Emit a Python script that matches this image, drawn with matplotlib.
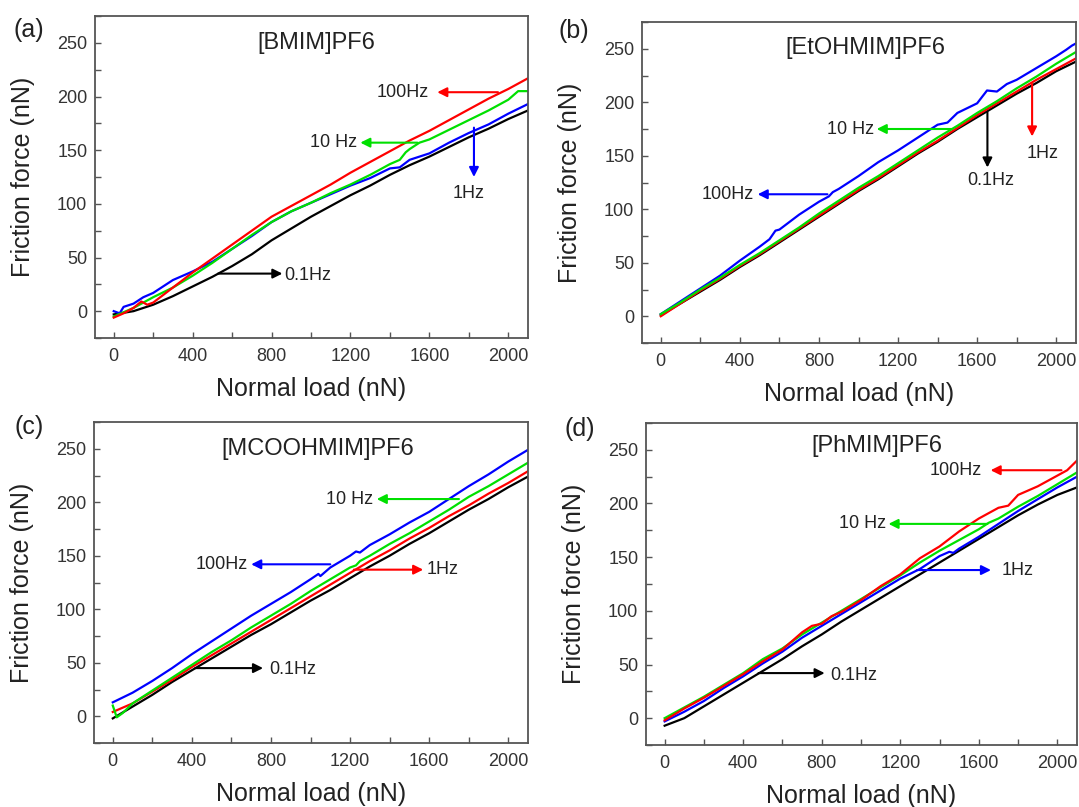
import numpy as np
import matplotlib
matplotlib.use("Agg")
import matplotlib.pyplot as plt
from matplotlib.ticker import MultipleLocator

plt.rcParams["font.family"] = ["Liberation Sans", "DejaVu Sans"]

# ---- (a) [BMIM]PF6 ----
a_black_x = [0, 100, 200, 300, 400, 500, 600, 700, 800, 900, 1000, 1100, 1200, 1300, 1400, 1500, 1600, 1700, 1800, 1900, 2000, 2100]
a_black_y = [-3, 0, 6, 14, 23, 32, 42, 53, 66, 77, 88, 98, 108, 117, 127, 136, 144, 153, 162, 170, 179, 187]
a_red_x = [0, 50, 100, 140, 170, 200, 250, 300, 400, 500, 600, 700, 800, 900, 1000, 1100, 1200, 1300, 1400, 1500, 1600, 1700, 1800, 1900, 2000, 2100]
a_red_y = [-6, -2, 3, 9, 6, 8, 15, 22, 36, 49, 62, 75, 88, 98, 108, 118, 129, 139, 149, 159, 168, 178, 188, 198, 207, 217]
a_green_x = [0, 100, 200, 300, 400, 500, 600, 700, 800, 900, 1000, 1100, 1200, 1300, 1400, 1450, 1480, 1500, 1550, 1600, 1700, 1800, 1900, 2000, 2050, 2100]
a_green_y = [-5, 3, 13, 22, 33, 45, 58, 71, 83, 93, 101, 110, 118, 127, 137, 141, 148, 151, 157, 160, 169, 178, 187, 197, 205, 205]
a_blue_x = [0, 30, 50, 100, 150, 200, 300, 350, 400, 500, 600, 700, 800, 900, 1000, 1100, 1200, 1300, 1400, 1450, 1500, 1600, 1700, 1800, 1850, 1900, 2000, 2100]
a_blue_y = [0, -2, 4, 7, 13, 17, 29, 33, 37, 46, 58, 70, 83, 93, 101, 109, 117, 124, 133, 134, 141, 147, 157, 166, 170, 174, 184, 193]

# ---- (b) [EtOHMIM]PF6 ----
b_black_x = [0, 100, 200, 300, 400, 500, 600, 700, 800, 900, 1000, 1100, 1200, 1300, 1400, 1500, 1600, 1700, 1800, 1900, 2000, 2100]
b_black_y = [1, 12, 23, 34, 46, 57, 69, 81, 93, 105, 117, 128, 140, 152, 163, 175, 186, 197, 208, 218, 229, 238]
b_red_x = [0, 100, 200, 300, 400, 500, 600, 700, 800, 900, 1000, 1100, 1200, 1300, 1400, 1500, 1600, 1700, 1800, 1900, 2000, 2100]
b_red_y = [0, 12, 24, 35, 47, 58, 70, 82, 94, 106, 118, 129, 141, 153, 164, 176, 188, 199, 210, 221, 231, 241]
b_green_x = [0, 100, 200, 300, 400, 500, 600, 700, 800, 900, 1000, 1100, 1200, 1300, 1400, 1500, 1600, 1700, 1800, 1900, 2000, 2100]
b_green_y = [2, 13, 25, 36, 48, 59, 71, 83, 96, 108, 120, 131, 143, 155, 167, 178, 190, 201, 213, 224, 236, 247]
b_blue_x = [0, 100, 200, 300, 400, 500, 550, 580, 600, 700, 800, 850, 870, 900, 1000, 1100, 1200, 1300, 1400, 1450, 1500, 1600, 1650, 1700, 1750, 1800, 1900, 2000, 2050, 2080, 2100]
b_blue_y = [2, 14, 26, 38, 52, 65, 72, 80, 81, 95, 107, 112, 116, 119, 131, 144, 155, 167, 179, 181, 190, 199, 211, 210, 217, 221, 232, 243, 249, 253, 255]

# ---- (c) [MCOOHMIM]PF6 ----
c_black_x = [0, 100, 200, 300, 400, 500, 600, 700, 800, 900, 1000, 1100, 1200, 1300, 1400, 1500, 1600, 1700, 1800, 1900, 2000, 2100]
c_black_y = [-2, 9, 20, 32, 43, 54, 65, 76, 86, 97, 108, 118, 129, 140, 150, 161, 171, 182, 193, 203, 214, 224]
c_red_x = [0, 100, 200, 300, 400, 500, 600, 700, 800, 900, 1000, 1100, 1200, 1300, 1400, 1500, 1600, 1700, 1800, 1900, 2000, 2100]
c_red_y = [4, 12, 23, 34, 46, 57, 68, 79, 90, 101, 112, 123, 134, 145, 155, 166, 176, 187, 197, 208, 218, 229]
c_green_x = [0, 20, 50, 100, 200, 300, 400, 500, 600, 700, 800, 900, 1000, 1100, 1200, 1230, 1250, 1300, 1400, 1500, 1600, 1700, 1800, 1900, 2000, 2100]
c_green_y = [10, -1, 3, 12, 24, 36, 48, 60, 71, 83, 94, 105, 117, 128, 139, 141, 145, 150, 161, 171, 182, 193, 205, 215, 226, 237]
c_blue_x = [0, 100, 200, 300, 400, 500, 600, 700, 800, 900, 1000, 1040, 1050, 1100, 1200, 1230, 1250, 1300, 1400, 1500, 1600, 1700, 1800, 1900, 2000, 2100]
c_blue_y = [13, 22, 33, 45, 58, 70, 82, 94, 105, 116, 128, 133, 131, 139, 150, 154, 153, 160, 170, 181, 191, 203, 215, 226, 238, 249]

# ---- (d) [PhMIM]PF6 ----
d_black_x = [0, 100, 200, 300, 400, 500, 600, 700, 800, 900, 1000, 1100, 1200, 1300, 1400, 1500, 1600, 1700, 1800, 1900, 2000, 2100]
d_black_y = [-7, 0, 11, 22, 33, 44, 55, 67, 78, 90, 101, 112, 123, 134, 145, 156, 167, 178, 189, 199, 208, 215]
d_blue_x = [0, 100, 200, 300, 400, 500, 600, 700, 800, 900, 1000, 1100, 1200, 1300, 1400, 1450, 1470, 1500, 1600, 1700, 1800, 1900, 2000, 2100]
d_blue_y = [-3, 6, 16, 28, 39, 51, 62, 75, 86, 97, 108, 119, 130, 139, 151, 155, 154, 158, 169, 181, 193, 204, 215, 225]
d_green_x = [0, 100, 200, 300, 400, 500, 600, 700, 800, 900, 1000, 1100, 1200, 1300, 1400, 1500, 1600, 1650, 1700, 1800, 1900, 2000, 2100]
d_green_y = [0, 10, 20, 31, 42, 55, 65, 78, 89, 100, 111, 122, 133, 145, 156, 166, 176, 182, 186, 197, 207, 218, 229]
d_red_x = [0, 100, 200, 300, 400, 500, 600, 700, 750, 800, 850, 900, 1000, 1100, 1200, 1300, 1400, 1500, 1600, 1700, 1750, 1800, 1900, 2000, 2050, 2100]
d_red_y = [-2, 9, 19, 30, 41, 53, 64, 80, 86, 88, 95, 99, 110, 123, 134, 149, 160, 174, 186, 196, 198, 208, 216, 226, 231, 240]

panels = [
    ("(a)", "[BMIM]PF6", (1025, 250),
     [(a_black_x, a_black_y, "k"), (a_blue_x, a_blue_y, "b"), (a_green_x, a_green_y, "g"), (a_red_x, a_red_y, "r")],
     # arrows: (start, end, colour, label, label pos, ha, va)
     [((1948, 204), (1640, 204), "r", "100Hz", (1600, 204), "right", "center"),
      ((1540, 157), (1250, 157), "g", "10 Hz", (1235, 157), "right", "center"),
      ((1826, 171), (1826, 125), "b", "1Hz", (1800, 110), "center", "center"),
      ((529, 35), (855, 35), "k", "0.1Hz", (862, 33), "left", "center")]),
    ("(b)", "[EtOHMIM]PF6", (1035, 251),
     [(b_blue_x, b_blue_y, "b"), (b_black_x, b_black_y, "k"), (b_red_x, b_red_y, "r"), (b_green_x, b_green_y, "g")],
     [((1470, 175), (1092, 175), "g", "10 Hz", (1078, 175), "right", "center"),
      ((843, 114), (490, 114), "b", "100Hz", (470, 114), "right", "center"),
      ((1652, 191), (1652, 139), "k", "0.1Hz", (1670, 127), "center", "center"),
      ((1878, 217), (1878, 168), "r", "1Hz", (1930, 152), "center", "center")]),
    ("(c)", "[MCOOHMIM]PF6", (1036, 250),
     [(c_black_x, c_black_y, "k"), (c_red_x, c_red_y, "r"), (c_green_x, c_green_y, "g"), (c_blue_x, c_blue_y, "b")],
     [((1751, 203), (1335, 203), "g", "10 Hz", (1315, 203), "right", "center"),
      ((1100, 142), (700, 142), "b", "100Hz", (684, 142), "right", "center"),
      ((1219, 137), (1570, 137), "r", "1Hz", (1585, 137), "left", "center"),
      ((417, 45), (760, 45), "k", "0.1Hz", (792, 44), "left", "center")]),
    ("(d)", "[PhMIM]PF6", (1083, 254),
     [(d_black_x, d_black_y, "k"), (d_blue_x, d_blue_y, "b"), (d_green_x, d_green_y, "g"), (d_red_x, d_red_y, "r")],
     [((2021, 231), (1660, 231), "r", "100Hz", (1618, 231), "right", "center"),
      ((1644, 181), (1140, 181), "g", "10 Hz", (1128, 181), "right", "center"),
      ((1285, 138), (1662, 138), "b", "1Hz", (1714, 138), "left", "center"),
      ((478, 42), (815, 42), "k", "0.1Hz", (843, 40), "left", "center")]),
]

colors = {"k": "#000000", "r": "#ff0000", "g": "#00e000", "b": "#0000ff"}

# axes boxes in pixels: left, right, top, bottom
boxes = [(95, 528, 16, 338), (642, 1076, 22, 343), (94, 528, 422, 743), (646, 1077, 423, 745)]
# panel letter centres in pixels
tag_pos = [(29, 30), (574, 31), (29, 427), (580, 429)]
W, H = 1079, 807

fig = plt.figure(figsize=(W / 100, H / 100), dpi=100)

for (tag, title, tpos, lines, arrows), (l, r, t, b), (tx, ty) in zip(panels, boxes, tag_pos):
    ax = fig.add_axes([l / W, 1 - b / H, (r - l) / W, (b - t) / H])
    for xs, ys, c in lines:
        ax.plot(xs, ys, color=colors[c], lw=1.6)
    for start, end, c, lab, lpos, ha, va in arrows:
        ax.annotate("", xy=end, xytext=start,
                    arrowprops=dict(arrowstyle="-|>", color=colors[c], lw=1.5,
                                    mutation_scale=14, shrinkA=0, shrinkB=0))
        ax.text(lpos[0], lpos[1], lab, ha=ha, va=va, fontsize=13, color="#222222")
    ax.text(tpos[0], tpos[1], title, ha="center", va="center", fontsize=17, color="#222222")
    ax.set_xlim(-95, 2100)
    ax.set_ylim(-25, 275)
    ax.xaxis.set_major_locator(MultipleLocator(400))
    ax.xaxis.set_minor_locator(MultipleLocator(200))
    ax.yaxis.set_major_locator(MultipleLocator(50))
    ax.yaxis.set_minor_locator(MultipleLocator(25))
    ax.tick_params(which="both", direction="in", top=False, right=False,
                   labelsize=13, labelcolor="#333333", color="#555555")
    ax.tick_params(which="major", length=4, width=1)
    ax.tick_params(which="minor", length=4, width=1)
    ax.tick_params(axis="x", which="both", pad=7)
    ax.tick_params(axis="y", which="both", pad=5.5)
    for s in ax.spines.values():
        s.set_color("#555555")
        s.set_linewidth(1.3)
    ax.set_xlabel("Normal load (nN)", fontsize=18, color="#222222", labelpad=9)
    ax.set_ylabel("Friction force (nN)", fontsize=18, color="#222222", labelpad=16)
    fig.text(tx / W, 1 - ty / H, tag, fontsize=18, ha="center", va="center", color="#222222")

fig.savefig("out.png", dpi=100)
